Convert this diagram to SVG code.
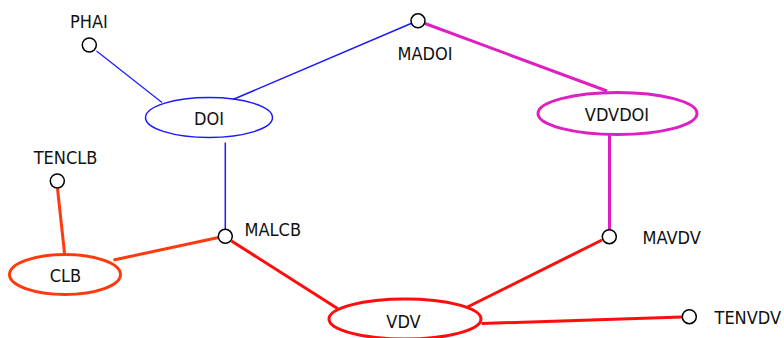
<svg xmlns="http://www.w3.org/2000/svg" width="784" height="338" viewBox="0 0 784 338">
  <style>
    .lbl { font-family: "DejaVu Sans Condensed", "DejaVu Sans", sans-serif; font-stretch: condensed; font-size: 18px; fill: #111; }
    .mid { text-anchor: middle; }
    .attr { fill: #fff; stroke: #000; stroke-width: 1.5; }
    .ent { fill: #fff; }
    .blue { stroke: #1a1aff; fill: none; }
    .mag { stroke: #dd1fc4; fill: none; stroke-width: 3; }
    .red { stroke: #ff0d0d; fill: none; stroke-width: 3; }
    .orange { stroke: #ff3a0f; fill: none; stroke-width: 3; }
  </style>

  <!-- connectors -->
  <g id="connectors">
    <line class="blue" stroke-width="1.2" x1="96.5" y1="51" x2="162" y2="102.5"/>
    <line class="blue" stroke-width="1.5" x1="233" y1="99.5" x2="411" y2="23.5"/>
    <line class="blue" stroke-width="1.5" x1="225.3" y1="142.5" x2="225.3" y2="229"/>
    <line class="mag" x1="425" y1="23.5" x2="607" y2="91"/>
    <line class="mag" x1="609.5" y1="135" x2="609.5" y2="229.5"/>
    <line class="orange" x1="57.5" y1="188.5" x2="64.5" y2="253"/>
    <line class="orange" x1="218.5" y1="237.5" x2="113.5" y2="260"/>
    <line class="red" x1="231.5" y1="241" x2="337.5" y2="308.5"/>
    <line class="red" x1="602" y1="240" x2="467.5" y2="307"/>
    <line class="red" x1="481.5" y1="323.5" x2="682" y2="317"/>
  </g>

  <!-- entities -->
  <g id="DOI">
    <ellipse class="ent blue" stroke-width="1.5" cx="209" cy="117.5" rx="63.5" ry="20"/>
    <text class="lbl mid" x="209" y="125">DOI</text>
  </g>
  <g id="VDVDOI">
    <ellipse class="ent mag" cx="617.5" cy="113.5" rx="79.5" ry="21"/>
    <text class="lbl mid" x="617" y="121">VDVDOI</text>
  </g>
  <g id="CLB">
    <ellipse class="ent orange" cx="65" cy="274.5" rx="55.5" ry="20"/>
    <text class="lbl mid" x="65.5" y="281.5">CLB</text>
  </g>
  <g id="VDV">
    <ellipse class="ent red" cx="405" cy="319" rx="76" ry="20"/>
    <text class="lbl mid" x="403.5" y="328">VDV</text>
  </g>

  <!-- attributes -->
  <g id="PHAI">
    <circle class="attr" cx="89.3" cy="45" r="7"/>
    <text class="lbl mid" x="89" y="28">PHAI</text>
  </g>
  <g id="MADOI">
    <circle class="attr" cx="418" cy="20.8" r="7"/>
    <text class="lbl mid" x="425" y="60">MADOI</text>
  </g>
  <g id="TENCLB">
    <circle class="attr" cx="57.3" cy="181" r="7"/>
    <text class="lbl mid" x="65.5" y="164">TENCLB</text>
  </g>
  <g id="MALCB">
    <circle class="attr" cx="225.3" cy="236.3" r="7"/>
    <text class="lbl" x="244.5" y="236">MALCB</text>
  </g>
  <g id="MAVDV">
    <circle class="attr" cx="609.3" cy="236.7" r="7"/>
    <text class="lbl" x="642.5" y="243.5">MAVDV</text>
  </g>
  <g id="TENVDV">
    <circle class="attr" cx="689.3" cy="316.7" r="7"/>
    <text class="lbl" x="714.5" y="324">TENVDV</text>
  </g>
</svg>
